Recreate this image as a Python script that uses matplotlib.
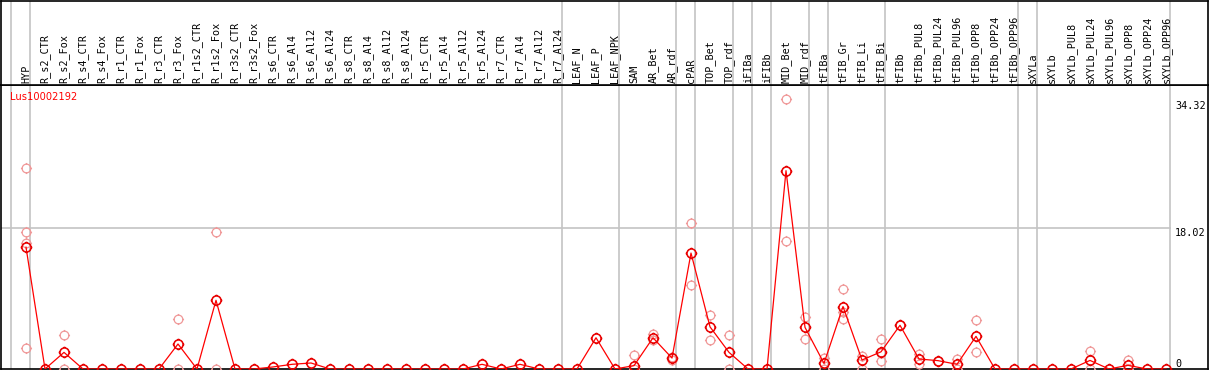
import numpy as np
import matplotlib
matplotlib.use("Agg")
import matplotlib.pyplot as plt
from matplotlib.path import Path

# ---------------- data ----------------
samples = ["HYP", "R_s2_CTR", "R_s2_Fox", "R_s4_CTR", "R_s4_Fox", "R_r1_CTR", "R_r1_Fox",
           "R_r3_CTR", "R_r3_Fox", "R_r1s2_CTR", "R_r1s2_Fox", "R_r3s2_CTR", "R_r3s2_Fox",
           "R_s6_CTR", "R_s6_Al4", "R_s6_Al12", "R_s6_Al24", "R_s8_CTR", "R_s8_Al4",
           "R_s8_Al12", "R_s8_Al24", "R_r5_CTR", "R_r5_Al4", "R_r5_Al12", "R_r5_Al24",
           "R_r7_CTR", "R_r7_Al4", "R_r7_Al12", "R_r7_Al24", "LEAF_N", "LEAF_P", "LEAF_NPK",
           "SAM", "AR_Bet", "AR_rdf", "cPAR", "TOP_Bet", "TOP_rdf", "iFIBa", "iFIBb",
           "MID_Bet", "MID_rdf", "tFIBa", "tFIB_Gr", "tFIB_Li", "tFIB_Bi", "tFIBb",
           "tFIBb_PUL8", "tFIBb_PUL24", "tFIBb_PUL96", "tFIBb_OPP8", "tFIBb_OPP24",
           "tFIBb_OPP96", "sXYLa", "sXYLb", "sXYLb_PUL8", "sXYLb_PUL24", "sXYLb_PUL96",
           "sXYLb_OPP8", "sXYLb_OPP24", "sXYLb_OPP96"]

mean_values = [15.6, 0, 2.13, 0, 0, 0, 0, 0, 3.2, 0, 8.8, 0, 0,
               0.26, 0.6, 0.77, 0, 0, 0, 0, 0, 0, 0, 0, 0.6, 0, 0.6, 0, 0,
               0, 4.0, 0, 0.43, 4.0, 1.4, 14.85, 5.4, 2.13, 0, 0,
               25.4, 5.33, 0.72, 8.0, 1.15, 2.2, 5.6, 1.28, 1.07, 0.6, 4.18, 0,
               0, 0, 0, 0, 1.1, 0, 0.47, 0, 0]

# replicate values: (sample index, value)
rep_index = [0, 0, 0, 0, 2, 2, 8, 8, 10, 10, 32, 32, 33, 33, 34, 34,
             35, 35, 36, 36, 37, 37, 40, 40, 41, 41, 42, 42, 43, 43, 43,
             44, 44, 45, 45, 45, 46, 47, 47, 48, 49, 49, 50, 50,
             56, 56, 58, 58]
rep_values = [25.8, 17.5, 16.1, 2.65, 4.35, 0, 6.36, 0, 17.6, 0, 1.75, 0, 4.5, 3.7, 1.5, 1.2,
              18.65, 10.8, 6.9, 3.7, 4.4, 0, 34.6, 16.35, 6.7, 3.8, 1.45, 0, 10.3, 6.35, 7.3,
              1.66, 0, 3.9, 1.0, 2.0, 5.6, 1.9, 0.6, 1.07, 1.3, 0,  6.27, 2.13,
              2.3, 0, 1.15, 0]

separators_after = [-1, 0, 28, 31, 34, 35, 37, 38, 39, 41, 42, 45, 52, 53, 60]
gene_name = "Lus10002192"
y_marks = [0, 18.02, 34.32]
y_mark_labels = ["0", "18.02", "34.32"]

# ---------------- layout ----------------
W, H = 1209, 370
fig = plt.figure(figsize=(W / 100, H / 100), dpi=100)

x0_px, step_px = 26.0, 19.0
xl = (1 - x0_px) / step_px
xr = (1208 - x0_px) / step_px

plot_top, plot_bot = 85, 369
ytop = 36.37

ax = fig.add_axes([1 / W, 1 - plot_bot / H, 1207 / W, (plot_bot - plot_top) / H])
hx = fig.add_axes([1 / W, 1 - plot_top / H, 1207 / W, (plot_top - 0.5) / H])

for a in (ax, hx):
    a.set_xlim(xl, xr)
    a.set_xticks([])
    a.set_yticks([])
    for s in a.spines.values():
        s.set_color("black")
        s.set_linewidth(1.2)
ax.set_ylim(0, ytop)
hx.set_ylim(0, 1)

sep_col = "#c4c4c4"
for s in separators_after:
    xs = s + 0.23
    ax.axvline(xs, color=sep_col, lw=1.2, zorder=1)
    hx.axvline(xs, color=sep_col, lw=1.2, zorder=1)

ax.plot([xl, 60.23], [18.02, 18.02], color=sep_col, lw=1.2, zorder=1)

# marker: circle with small ticks
circ = Path.unit_circle()
t = 1.28
ticks = Path([(0, 1), (0, t), (0, -1), (0, -t), (1, 0), (t, 0), (-1, 0), (-t, 0)],
             [Path.MOVETO, Path.LINETO] * 4)
mk = Path.make_compound_path(circ, ticks)

x = np.arange(len(samples))
ax.plot(np.array(rep_index), rep_values, linestyle="none", marker=mk, markersize=8.0,
        markerfacecolor="none", markeredgecolor="#f09898", markeredgewidth=0.9, zorder=3)
ax.plot(x, mean_values, color="#ff0000", lw=0.9, zorder=4)
ax.plot(x, mean_values, linestyle="none", marker=mk, markersize=8.4,
        markerfacecolor="none", markeredgecolor="#e80000", markeredgewidth=1.15, zorder=5)

# header labels
for i, lab in enumerate(samples):
    hx.text(i, 2 / 85, lab, rotation=90, ha="center", va="bottom",
            fontsize=7.3, family="DejaVu Sans Mono", color="black")

ax.text(10 / 19 + xl - 1 / 19, 36.37 - 12 / 7.808, gene_name, color="#ff0000",
        fontsize=7.1, family="DejaVu Sans", ha="left", va="center")

lab_x = (1175 - x0_px) / step_px
for v, s in zip(y_marks, y_mark_labels):
    ax.text(lab_x, v, s, fontsize=7.3, family="DejaVu Sans Mono", ha="left",
            va="bottom" if v == 0 else "top")

fig.savefig("out.png", dpi=100)
